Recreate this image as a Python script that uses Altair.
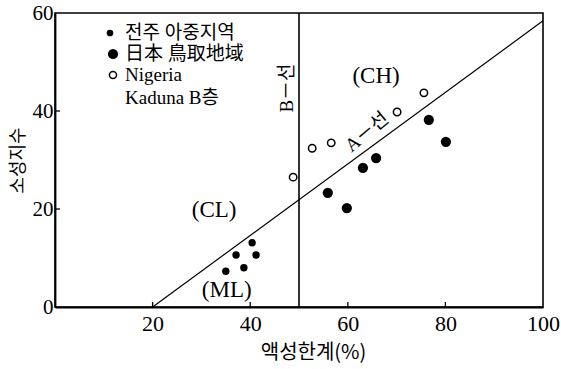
import altair as alt
import pandas as pd

# ---------------- data ----------------
jeonju_ll = [37.1, 40.4, 41.2, 35.0, 38.7]
jeonju_pi = [10.6, 13.1, 10.6, 7.3, 8.0]
tottori_ll = [76.6, 80.1, 65.8, 63.1, 55.9, 59.8]
tottori_pi = [38.2, 33.7, 30.4, 28.4, 23.3, 20.2]
nigeria_ll = [48.8, 52.7, 56.6, 70.1, 75.6]
nigeria_pi = [26.5, 32.4, 33.5, 39.8, 43.7]

a_line_ll = [20, 100]
a_line_pi = [0, 58.4]
b_line_ll = [50, 50]
b_line_pi = [0, 60]

x_tick_labels = [20, 40, 60, 80, 100]
y_tick_labels = [0, 20, 40, 60]
x_inner_ticks = [20, 40, 60, 80]
y_inner_ticks = [20, 40]

region_text = ["(CH)", "(CL)", "(ML)"]
region_ll = [65.8, 32.6, 35.2]
region_pi = [47.1, 19.8, 3.5]

legend_labels = ["전주 아중지역", "日本 鳥取地域", "Nigeria", "Kaduna B층"]

# ---------------- style ----------------
SERIF = "Liberation Serif, Noto Sans CJK KR"
KR = "Noto Sans CJK KR"
W, H = 488, 294

xs = alt.Scale(domain=[0, 100], nice=False, zero=False)
ys = alt.Scale(domain=[0, 60], nice=False, zero=False)

x_axis = alt.Axis(values=x_tick_labels, ticks=False, grid=False, domainColor="black",
                  domainWidth=1.8, labelFont=SERIF, labelFontSize=22, labelColor="black",
                  labelPadding=6, labelFlush=False, title="액성한계(%)", titleFont=KR,
                  titleFontSize=20, titleFontWeight="normal", titleColor="black",
                  titlePadding=8, titleX=258)
y_axis = alt.Axis(values=y_tick_labels, ticks=False, grid=False, domainColor="black",
                  domainWidth=1.8, labelFont=SERIF, labelFontSize=21, labelColor="black",
                  labelPadding=2, labelFlush=False, title="소성지수", titleFont=KR,
                  titleFontSize=18, titleFontWeight="normal", titleColor="black",
                  titlePadding=5)

def X():
    return alt.X("ll:Q", scale=xs)

def Y():
    return alt.Y("pi:Q", scale=ys)

a_df = pd.DataFrame({"ll": a_line_ll, "pi": a_line_pi})
b_df = pd.DataFrame({"ll": b_line_ll, "pi": b_line_pi})

a_line = alt.Chart(a_df).mark_line(color="black", strokeWidth=1.2).encode(
    x=alt.X("ll:Q", scale=xs, axis=x_axis), y=alt.Y("pi:Q", scale=ys, axis=y_axis))
b_line = alt.Chart(b_df).mark_line(color="black", strokeWidth=1.6).encode(x=X(), y=Y())

xt = alt.Chart(pd.DataFrame({"ll": x_inner_ticks})).mark_rule(color="black", strokeWidth=1.3).encode(
    x=X(), y=alt.value(H), y2=alt.value(H - 5))
yt = alt.Chart(pd.DataFrame({"pi": y_inner_ticks})).mark_rule(color="black", strokeWidth=1.3).encode(
    y=Y(), x=alt.value(0), x2=alt.value(5))

jeonju = alt.Chart(pd.DataFrame({"ll": jeonju_ll, "pi": jeonju_pi})).mark_point(
    filled=True, color="black", size=55, opacity=1).encode(x=X(), y=Y())
tottori = alt.Chart(pd.DataFrame({"ll": tottori_ll, "pi": tottori_pi})).mark_point(
    filled=True, color="black", size=105, opacity=1).encode(x=X(), y=Y())
nigeria = alt.Chart(pd.DataFrame({"ll": nigeria_ll, "pi": nigeria_pi})).mark_point(
    filled=False, color="black", fill="white", fillOpacity=1, size=55, strokeWidth=1.5,
    opacity=1).encode(x=X(), y=Y())

regions = alt.Chart(pd.DataFrame({"ll": region_ll, "pi": region_pi, "t": region_text})).mark_text(
    font=SERIF, fontSize=23, color="black").encode(x=X(), y=Y(), text="t:N")

b_label = alt.Chart(pd.DataFrame({"ll": [47.5], "pi": [44.7], "t": ["B－선"]})).mark_text(
    font=SERIF, fontSize=19, color="black", angle=270).encode(x=X(), y=Y(), text="t:N")
a_label = alt.Chart(pd.DataFrame({"ll": [63.9], "pi": [35.7], "t": ["A－선"]})).mark_text(
    font=SERIF, fontSize=19, color="black", angle=320).encode(x=X(), y=Y(), text="t:N")

# ---------------- legend (drawn inside the plot, top-left) ----------------
one = pd.DataFrame({"k": [0]})
leg_sym1 = alt.Chart(one).mark_point(filled=True, color="black", size=45, opacity=1).encode(
    x=alt.value(55), y=alt.value(20))
leg_sym2 = alt.Chart(one).mark_point(filled=True, color="black", size=105, opacity=1).encode(
    x=alt.value(58), y=alt.value(41))
leg_sym3 = alt.Chart(one).mark_point(filled=False, color="black", size=50, strokeWidth=1.5,
                                     opacity=1).encode(x=alt.value(58), y=alt.value(62))
leg_rows = [20, 41, 62, 85]
leg_texts = []
for lab, ry in zip(legend_labels, leg_rows):
    leg_texts.append(
        alt.Chart(pd.DataFrame({"t": [lab]})).mark_text(
            font=SERIF, fontSize=19, color="black", align="left", baseline="middle").encode(
            x=alt.value(70), y=alt.value(ry), text="t:N"))

chart = alt.layer(
    a_line, b_line, xt, yt, jeonju, tottori, nigeria, regions, b_label, a_label,
    leg_sym1, leg_sym2, leg_sym3, *leg_texts
).properties(
    width=W, height=H, autosize="none",
    padding={"left": 55, "top": 13, "right": 18, "bottom": 62},
    background="white",
).configure_view(stroke="black", strokeWidth=1.6)

chart.save("out.html", embed_options={"renderer": "svg", "actions": False})
